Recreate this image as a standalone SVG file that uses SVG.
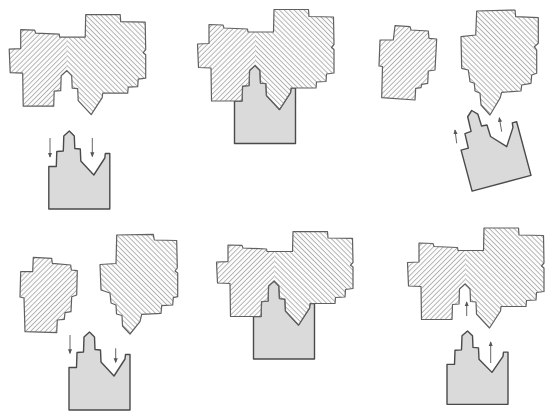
<svg xmlns="http://www.w3.org/2000/svg" width="545" height="413" viewBox="0 0 545 413">
<style>
.hb{fill:url(#hB)}
.ha{fill:url(#hA)}
.ol{fill:none;stroke:#606060;stroke-width:1.2;stroke-linejoin:round}
.gr{fill:#dadada;stroke:#4a4a4a;stroke-width:1.4;stroke-linejoin:round}
.ar{fill:none;stroke:#666;stroke-width:1;marker-end:url(#ah)}
</style>
<defs>
<pattern id="hA" patternUnits="userSpaceOnUse" width="3.5" height="3.5" patternTransform="rotate(45)">
<rect width="3.5" height="3.5" fill="#fcfcfc"/>
<rect x="0" y="0" width="0.75" height="3.5" fill="#a2a2a2"/>
</pattern>
<pattern id="hB" patternUnits="userSpaceOnUse" width="3.5" height="3.5" patternTransform="rotate(-45)">
<rect width="3.5" height="3.5" fill="#fcfcfc"/>
<rect x="0" y="0" width="0.75" height="3.5" fill="#a2a2a2"/>
</pattern>
<path id="H" d="M-46,-41 L-32,-40.5 L-31,-37.5 L-7.5,-36.5 L-7,-33.5 L18.5,-33.5 L19,-56 L53.5,-56 L54,-49 L78.5,-48.5 L79,-21 L76.5,-18 L79,-16 L79,7.5 L71.5,8.5 L71,16 L61.5,16.5 L61,22.5 L36,22.5 L35.5,27 L24.5,44 L11.5,30 L11,18 L5.5,17.5 L5,5 L0,0 L-5.5,5 L-6,20 L-12.5,20.5 L-13,35.5 L-43.5,35.5 L-44,2.5 L-56.5,2 L-57.5,-21.5 L-46,-22 Z"/>
<path id="L" d="M-46,-41 L-32,-40.5 L-31,-37.5 L-7.5,-36.5 L-7,-33.5 L0,-33.5 L0,0 L-5.5,5 L-6,20 L-12.5,20.5 L-13,35.5 L-43.5,35.5 L-44,2.5 L-56.5,2 L-57.5,-21.5 L-46,-22 Z"/>
<path id="H5" d="M-46,-36 L-32,-35.6 L-31,-33 L-7.5,-32 L-7,-29.5 L18.5,-29.5 L19,-49.3 L53.5,-49.3 L54,-43 L78.5,-42.7 L79,-18.5 L76.5,-15.8 L79,-14 L79,7.5 L71.5,8.5 L71,16 L61.5,16.5 L61,22.5 L36,22.5 L35.5,27 L24.5,44 L11.5,30 L11,18 L5.5,17.5 L5,5 L0,0 L-5.5,5 L-6,20 L-12.5,20.5 L-13,35.5 L-43.5,35.5 L-44,2.5 L-56.5,2 L-57.5,-19 L-46,-19.4 Z"/>
<path id="L5" d="M-46,-36 L-32,-35.6 L-31,-33 L-7.5,-32 L-7,-29.5 L0,-29.5 L0,0 L-5.5,5 L-6,20 L-12.5,20.5 L-13,35.5 L-43.5,35.5 L-44,2.5 L-56.5,2 L-57.5,-19 L-46,-19.4 Z"/>
<path id="G" d="M0,0 L5,5 L5.5,17.5 L11,18 L11.5,30 L24.5,44 L35.5,27 L36,22.5 L40.5,22.5 L40.5,78 L-20.5,78 L-20.5,35.5 L-13,35.5 L-12.5,20.5 L-6,20 L-5.5,5 Z"/>
<marker id="ah" viewBox="0 0 6 6" refX="5" refY="3" markerWidth="5" markerHeight="5" orient="auto">
<path d="M0,0.5 L6,3 L0,5.5 Z" fill="#555"/>
</marker>
</defs>
<rect width="545" height="413" fill="#ffffff"/>

<!-- Panel 1 -->
<g id="p1-receptor" transform="translate(66.7,70.7)"><use href="#H" class="hb"/><use href="#L" class="ha"/><use href="#H" class="ol"/></g>
<g id="p1-ligand" transform="translate(69.3,131)"><use href="#G" class="gr"/></g>

<!-- Panel 2 -->
<g id="p2-ligand" transform="translate(255,65.5)"><use href="#G" class="gr"/></g>
<g id="p2-receptor" transform="translate(255,65.5)"><use href="#H" class="hb"/><use href="#L" class="ha"/><use href="#H" class="ol"/></g>

<!-- Panel 3 -->
<g id="p3-small">
<path class="ha" d="M395,25.7 L410,26.7 L411,30 L428.3,31 L429,38.3 L436.7,39 L435,70 L428.3,71 L427.7,83.3 L421.7,84.3 L421,87.7 L415.7,88.3 L415,100 L381.7,97.7 L382.5,66.5 L379,66 L380,40 L393.3,40 Z"/>
<path class="ol" d="M395,25.7 L410,26.7 L411,30 L428.3,31 L429,38.3 L436.7,39 L435,70 L428.3,71 L427.7,83.3 L421.7,84.3 L421,87.7 L415.7,88.3 L415,100 L381.7,97.7 L382.5,66.5 L379,66 L380,40 L393.3,40 Z"/>
</g>
<g id="p3-big">
<path class="hb" d="M476.7,11 L515,10 L515.7,16.7 L538.3,17.7 L538.3,43.3 L534.3,46.7 L536.7,50 L536.7,73.3 L531.7,75 L531,83.3 L521.7,85 L521,91 L501.7,92.3 L500,98.3 L490,115 L481,105 L480,93.3 L475,91 L474.3,83.3 L470,81.7 L468.3,70 L461.7,68.3 L461,36.7 L475.7,35 Z"/>
<path class="ol" d="M476.7,11 L515,10 L515.7,16.7 L538.3,17.7 L538.3,43.3 L534.3,46.7 L536.7,50 L536.7,73.3 L531.7,75 L531,83.3 L521.7,85 L521,91 L501.7,92.3 L500,98.3 L490,115 L481,105 L480,93.3 L475,91 L474.3,83.3 L470,81.7 L468.3,70 L461.7,68.3 L461,36.7 L475.7,35 Z"/>
</g>
<g id="p3-ligand" transform="translate(471.7,110.5) rotate(-15)"><use href="#G" class="gr"/></g>

<!-- Panel 4 -->
<g id="p4-small">
<path class="ha" d="M33.3,257.3 L51.7,258.3 L52.3,263.3 L70.7,265 L71.3,270 L77.3,270.7 L76.7,295 L71.7,296.7 L71,311.7 L65,312.7 L64.3,319.3 L57.3,320 L56.7,332.7 L25,331.7 L24,298 L20,297 L20.7,271.7 L32.7,271.7 Z"/>
<path class="ol" d="M33.3,257.3 L51.7,258.3 L52.3,263.3 L70.7,265 L71.3,270 L77.3,270.7 L76.7,295 L71.7,296.7 L71,311.7 L65,312.7 L64.3,319.3 L57.3,320 L56.7,332.7 L25,331.7 L24,298 L20,297 L20.7,271.7 L32.7,271.7 Z"/>
</g>
<g id="p4-big">
<path class="hb" d="M116.7,235 L153.3,234.3 L154.3,240 L176.7,240.5 L177.3,268 L175,271 L177.7,273 L177.7,296.7 L173.3,297.7 L172.7,305 L161.7,305.7 L161,313.3 L141.7,314.3 L140,321.7 L130,334 L122.5,326 L122,315.5 L116.5,314 L116,305 L111,303 L110,293 L101,290 L100,264.5 L116,263.5 Z"/>
<path class="ol" d="M116.7,235 L153.3,234.3 L154.3,240 L176.7,240.5 L177.3,268 L175,271 L177.7,273 L177.7,296.7 L173.3,297.7 L172.7,305 L161.7,305.7 L161,313.3 L141.7,314.3 L140,321.7 L130,334 L122.5,326 L122,315.5 L116.5,314 L116,305 L111,303 L110,293 L101,290 L100,264.5 L116,263.5 Z"/>
</g>
<g id="p4-ligand" transform="translate(89.5,332)"><use href="#G" class="gr"/></g>

<!-- Panel 5 -->
<g id="p5-ligand" transform="translate(274,281)"><use href="#G" class="gr"/></g>
<g id="p5-receptor" transform="translate(274,281)"><use href="#H5" class="hb"/><use href="#L5" class="ha"/><use href="#H5" class="ol"/></g>

<!-- Panel 6 -->
<g id="p6-receptor" transform="translate(465,284)"><use href="#H" class="hb"/><use href="#L" class="ha"/><use href="#H" class="ol"/></g>
<g id="p6-ligand" transform="translate(467.5,331) scale(1,0.94)"><use href="#G" class="gr"/></g>

<!-- Motion arrows -->
<g id="arrows">
<line class="ar" x1="50" y1="138" x2="50" y2="157"/>
<line class="ar" x1="92.3" y1="138" x2="92.3" y2="156.5"/>
<line class="ar" x1="456.7" y1="143.3" x2="455" y2="130"/>
<line class="ar" x1="501.7" y1="131.7" x2="499.3" y2="117.7"/>
<line class="ar" x1="70" y1="335" x2="70" y2="353.3"/>
<line class="ar" x1="115.7" y1="348.3" x2="115.7" y2="362.3"/>
<line class="ar" x1="466.7" y1="316" x2="466.7" y2="302"/>
<line class="ar" x1="490.7" y1="363" x2="490.7" y2="342"/>
</g>
</svg>
